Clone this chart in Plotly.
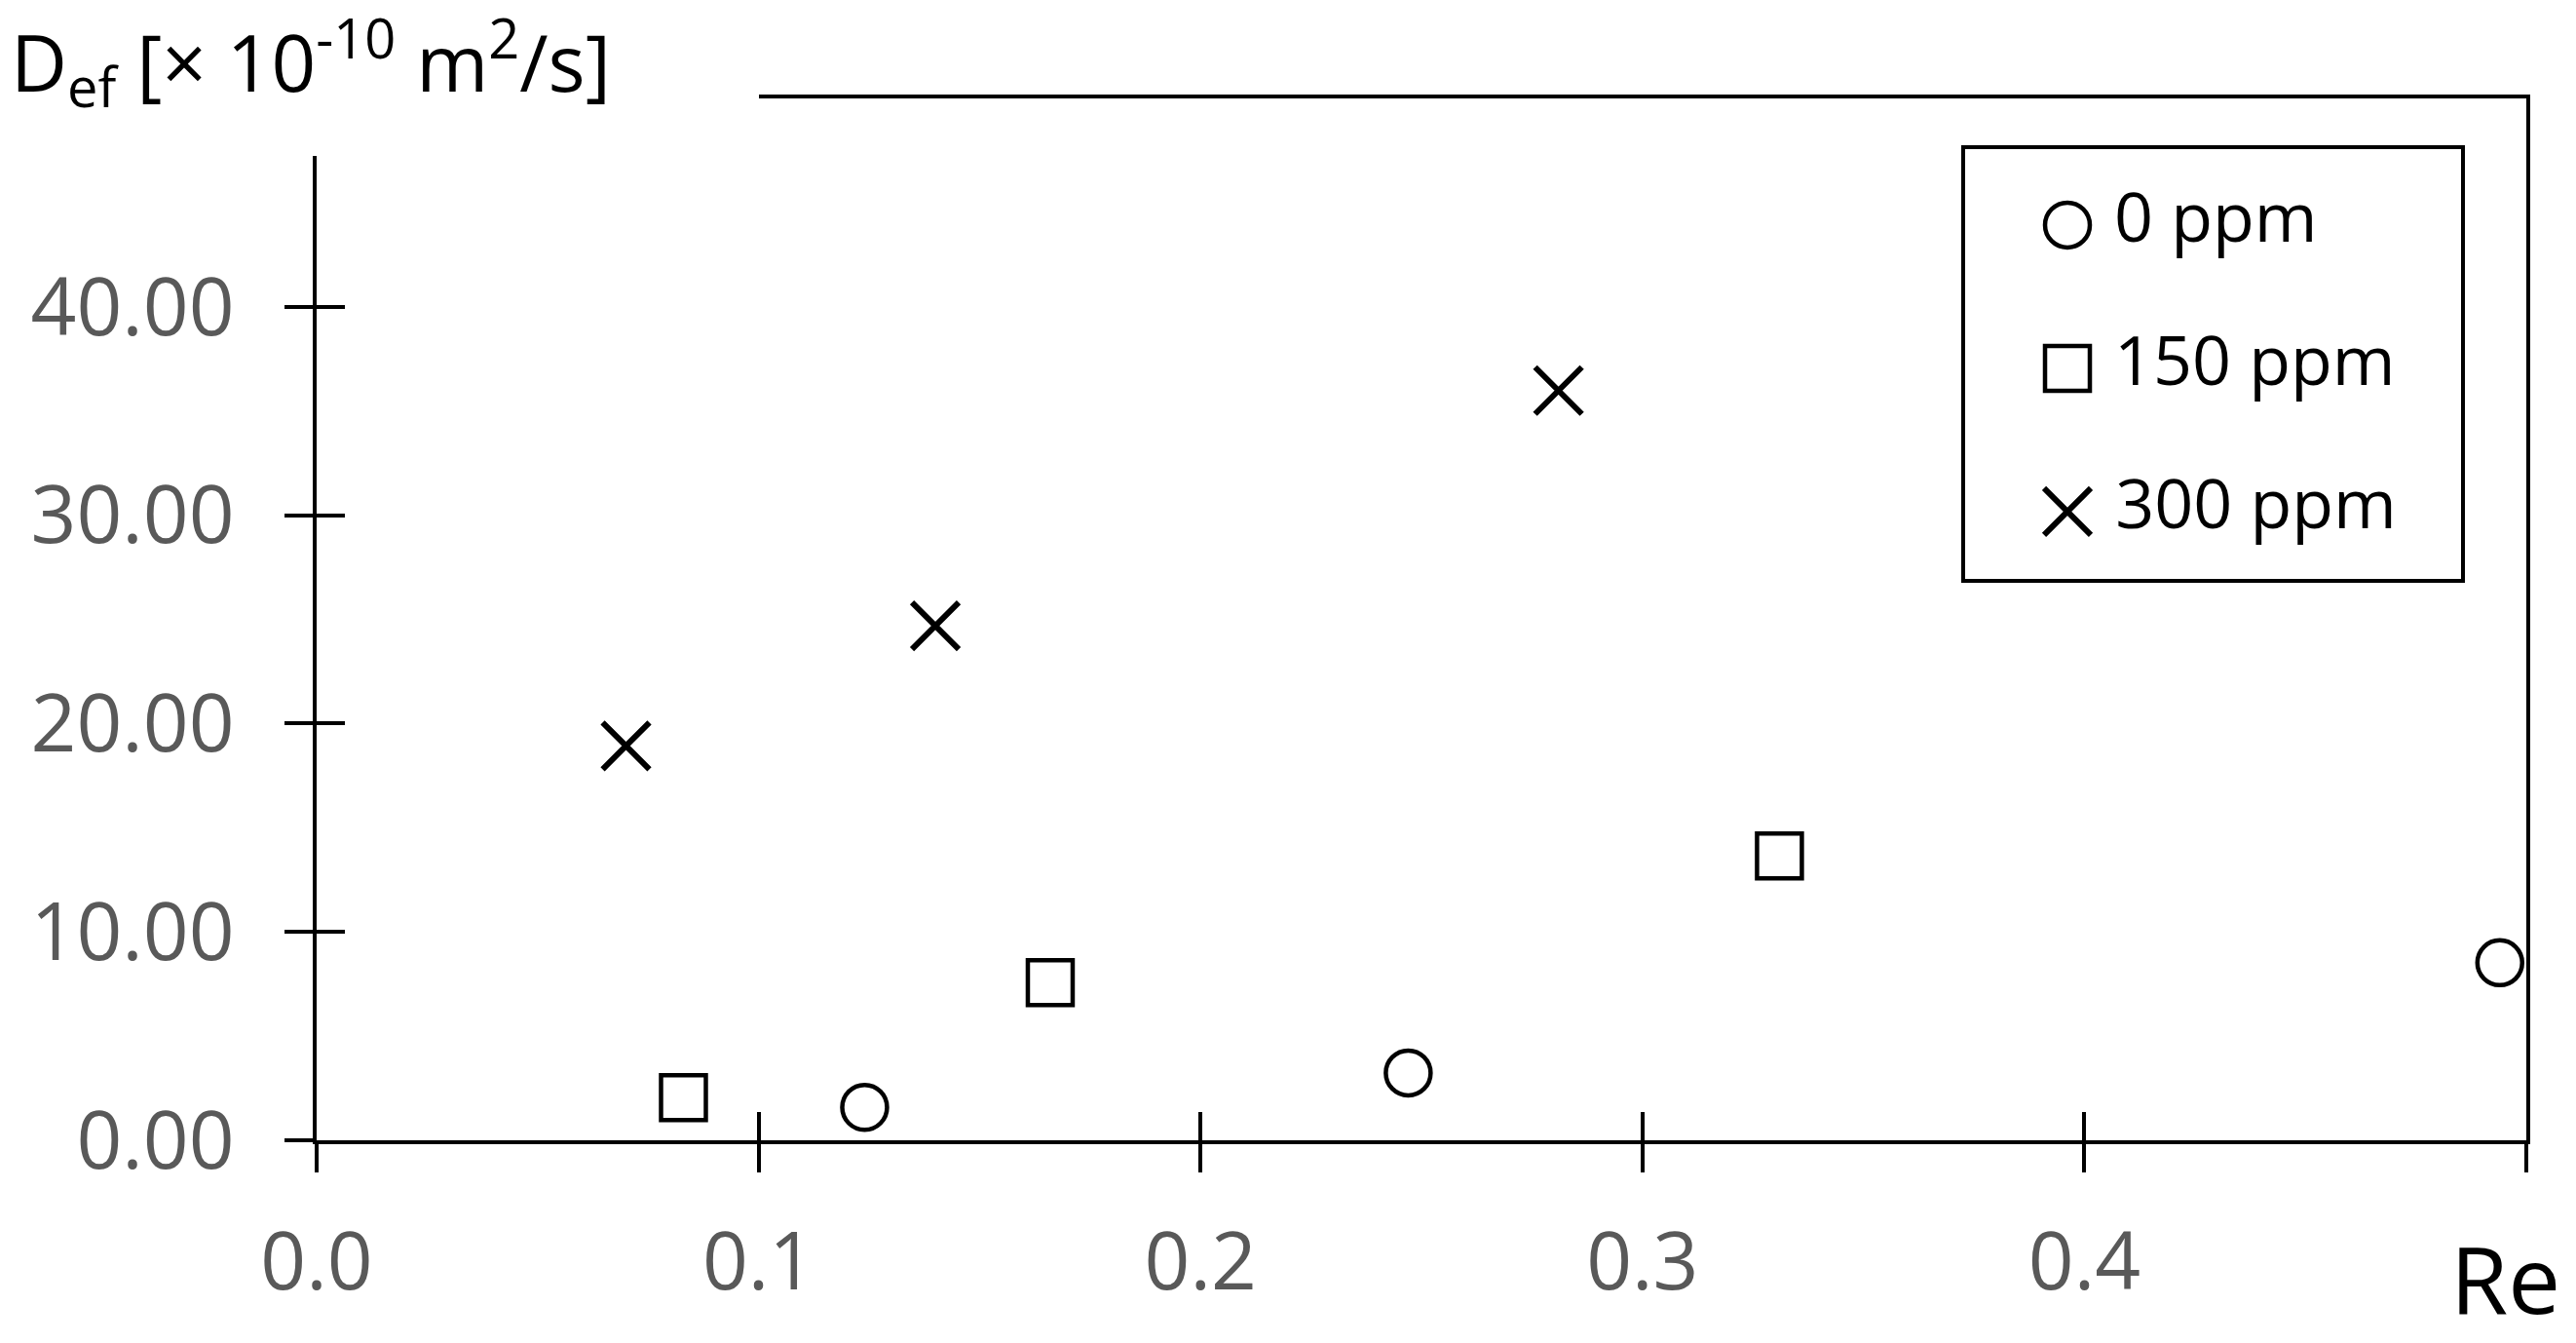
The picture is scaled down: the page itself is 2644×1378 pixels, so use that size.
import plotly.graph_objects as go

# ---- data ----
series_names = ["0 ppm", "150 ppm", "300 ppm"]
re_0ppm = [0.124, 0.247, 0.494]
def_0ppm = [1.58, 3.23, 8.52]
re_150ppm = [0.083, 0.166, 0.331]
def_150ppm = [2.05, 7.57, 13.65]
re_300ppm = [0.070, 0.140, 0.281]
def_300ppm = [18.93, 24.69, 35.98]

x_tickvals = [0.0, 0.1, 0.2, 0.3, 0.4, 0.5]
x_ticktext = ["0.0", "0.1", "0.2", "0.3", "0.4", ""]
y_tickvals = [0, 10, 20, 30, 40]

# ---- styles ----
W, H = 2644, 1378
PL, PR, PT, PB = 325, 2593, 101, 1170  # plot area in window pixels
ML, MT = PL, PT
PW, PH = PR - PL, PB - PT
MR = W - ML - PW
MB = H - MT - PH
FONT = "Open Sans"
GRAY = "#595959"
LW = 4
TICKLEN = 29

symbols = ["circle-open", "square-open", "x-thin-open"]
msizes = [46, 46, 48]
mlines = [4.5, 4.5, 6]
xs = [re_0ppm, re_150ppm, re_300ppm]
ys = [def_0ppm, def_150ppm, def_300ppm]

fig = go.Figure()
for name, x, y, sym, ms, mlw in zip(series_names, xs, ys, symbols, msizes, mlines):
    fig.add_trace(go.Scatter(
        x=x, y=y, mode="markers", name=name, showlegend=False,
        marker=dict(symbol=sym, size=ms, color="black", line=dict(width=mlw, color="black")),
        cliponaxis=False,
    ))

# overlay axes for inner half of crossing ticks
fig.add_trace(go.Scatter(x=[], y=[], xaxis="x2", yaxis="y2", showlegend=False, hoverinfo="skip"))

# legend keys drawn on a small boxed subplot
n = len(series_names)
for i, (name, sym, ms, mlw) in enumerate(zip(series_names, symbols, msizes, mlines)):
    fig.add_trace(go.Scatter(
        x=[0], y=[n - 1 - i], mode="markers+text", text=["\u00a0" + name],
        textposition="middle right", showlegend=False, hoverinfo="skip",
        textfont=dict(family=FONT, size=70, color="black"),
        marker=dict(symbol=sym, size=ms, color="black", line=dict(width=mlw, color="black")),
        xaxis="x3", yaxis="y3", cliponaxis=False,
    ))

def px_x(p):
    return (p - PL) / PW

def px_y(p):
    return (PB - p) / PH

fig.update_layout(
    width=W, height=H,
    margin=dict(l=ML, r=MR, t=MT, b=MB, pad=0),
    paper_bgcolor="white", plot_bgcolor="white",
    showlegend=False,
    font=dict(family=FONT, color="black"),
    xaxis=dict(
        range=[0, 0.5], tickvals=x_tickvals, ticktext=x_ticktext,
        ticks="outside", ticklen=TICKLEN, tickwidth=LW, tickcolor="black",
        showline=True, linewidth=LW, linecolor="black", mirror=True,
        showgrid=False, zeroline=False,
        tickfont=dict(family=FONT, size=82, color=GRAY),
        ticklabelstandoff=22,
    ),
    yaxis=dict(
        range=[0, 50], tickvals=y_tickvals, tickformat=".2f",
        ticks="outside", ticklen=TICKLEN, tickwidth=LW, tickcolor="black",
        showline=True, linewidth=LW, linecolor="black", mirror=True,
        showgrid=False, zeroline=False,
        tickfont=dict(family=FONT, size=82, color=GRAY),
        ticklabelstandoff=35,
    ),
    xaxis2=dict(
        overlaying="x", anchor="y", side="bottom", range=[0, 0.5], tickvals=x_tickvals,
        ticks="inside", ticklen=TICKLEN, tickwidth=LW, tickcolor="black",
        showticklabels=False, showline=False, showgrid=False, zeroline=False,
    ),
    yaxis2=dict(
        overlaying="y", anchor="x", side="left", range=[0, 50], tickvals=y_tickvals,
        ticks="inside", ticklen=TICKLEN, tickwidth=LW, tickcolor="black",
        showticklabels=False, showline=False, showgrid=False, zeroline=False,
    ),
    xaxis3=dict(
        domain=[px_x(2017), px_x(2526)], anchor="y3", range=[-0.2063, 0.7937],
        showline=True, mirror=True, linewidth=LW, linecolor="black",
        showticklabels=False, ticks="", showgrid=False, zeroline=False, fixedrange=True,
    ),
    yaxis3=dict(
        domain=[px_y(594), px_y(153)], anchor="x3", range=[-0.47, 2.53],
        showline=True, mirror=True, linewidth=LW, linecolor="black",
        showticklabels=False, ticks="", showgrid=False, zeroline=False, fixedrange=True,
    ),
)

# white box behind the y-axis title (covers the top-left frame corner)
fig.add_shape(type="rect", xref="paper", yref="paper",
              x0=px_x(-10), x1=px_x(779), y0=px_y(160), y1=px_y(-10),
              fillcolor="white", line=dict(width=0), layer="above")

fig.add_annotation(
    text="D<sub>ef</sub> [× 10<sup>-10</sup> m<sup>2</sup>/s]",
    xref="paper", yref="paper", x=px_x(10), y=px_y(-1),
    xanchor="left", yanchor="top", showarrow=False, borderpad=0,
    font=dict(family=FONT, size=80, color="black"),
)

fig.add_annotation(
    text="Re", xref="paper", yref="paper", x=px_x(2571), y=px_y(1310),
    xanchor="center", yanchor="middle", showarrow=False, borderpad=0,
    font=dict(family=FONT, size=96, color="black"),
)

fig.write_html("out.html", config={"displayModeBar": False},
               post_script="document.body.style.margin='0';")
